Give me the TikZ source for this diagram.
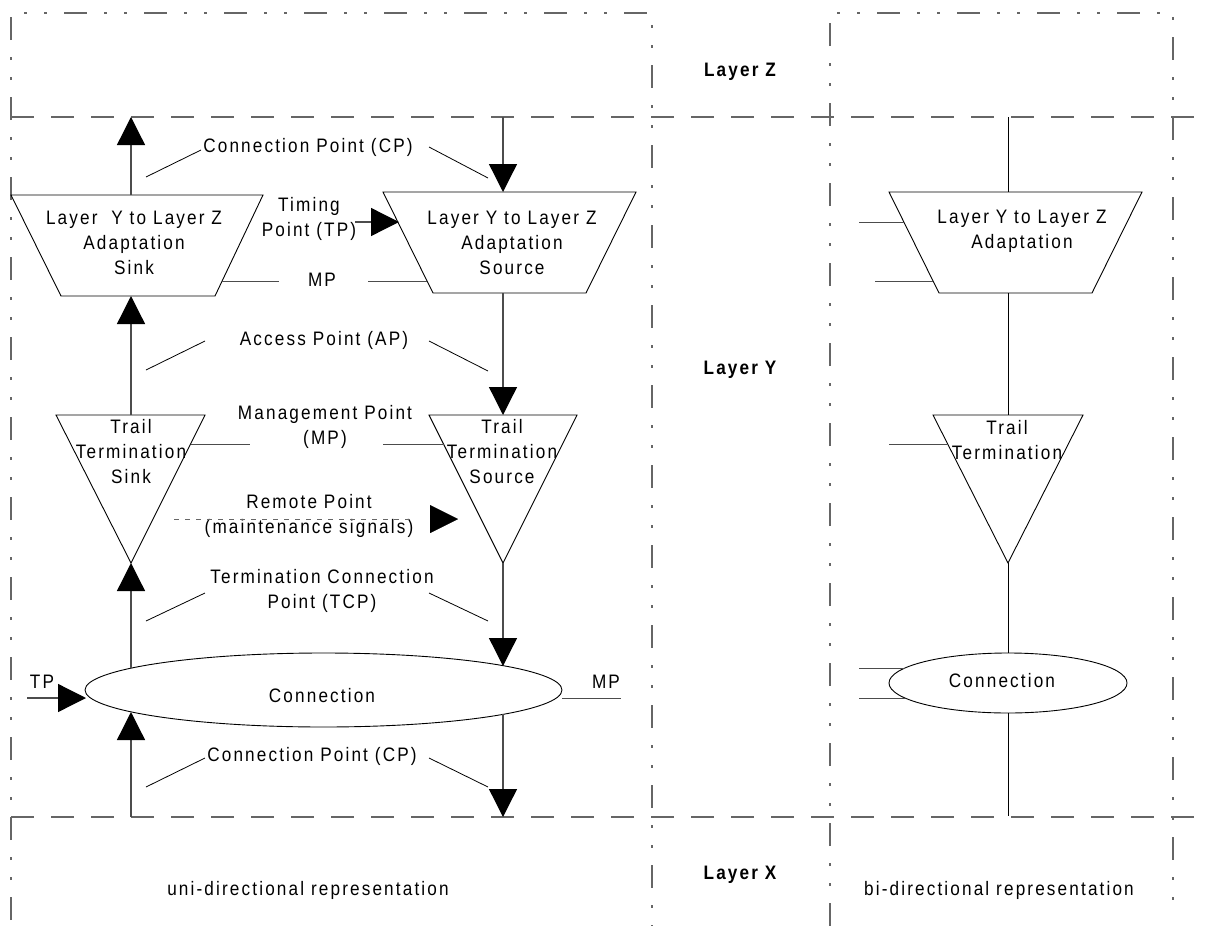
\documentclass[tikz,border=0pt]{standalone}
\usepackage{fontspec}
\setmainfont{Liberation Sans}[FakeStretch=0.88,LetterSpace=11]
\usetikzlibrary{arrows.meta,shapes.geometric}
\begin{document}
\begin{tikzpicture}[x=1pt,y=-1pt,
  every node/.style={font=\fontsize{19.5}{25}\selectfont, inner sep=0pt, align=center},
  layerlbl/.style={font=\fontsize{19.5}{25}\selectfont\bfseries},
  dashdot/.style={draw=black!60, line width=1.5pt, dash pattern=on 23pt off 17pt on 3pt off 17pt on 3pt off 17pt},
  layerline/.style={draw=black!60, line width=1.5pt, dash pattern=on 23pt off 17pt},
  conn/.style={draw=black!70, line width=1.3pt},
  thin/.style={draw=black, line width=0.9pt},
  leader/.style={draw=black, line width=0.8pt},
  shp/.style={draw=black, line width=0.9pt},
  arr/.style={conn, -{Triangle[length=28pt,width=28pt,color=black]}},
  ell/.style={ellipse, draw=black, line width=0.9pt}
]
\useasboundingbox (0,0) rectangle (1208,926);

% ---- frames ----
\draw[dashdot] (11,920) -- (11,13) -- (652,13) -- (652,926);
\draw[dashdot] (830,926) -- (830,13) -- (1173,13) -- (1173,910);
\draw[layerline] (11,117) -- (1198,117);
\draw[layerline] (11,817) -- (1198,817);

% ---- layer labels ----
\node[layerlbl] (lz) at (740,72) {Layer Z};
\node[layerlbl] (ly) at (740,370) {Layer Y};
\node[layerlbl] (lx) at (740,875) {Layer X};
\node (uni) at (308,890) {uni-directional representation};
\node (bi) at (999,890) {bi-directional representation};

% ---- named coordinates: left column ----
\coordinate (topL) at (131,117);
\coordinate (topR) at (503,117);
\coordinate (botL) at (131,817);
\coordinate (botR) at (503,817);
% adaptation sink
\coordinate (as1) at (11,195); \coordinate (as2) at (263,195);
\coordinate (as3) at (215,296); \coordinate (as4) at (61,296);
\coordinate (asT) at (131,195); \coordinate (asB) at (131,296);
% adaptation source
\coordinate (ao1) at (383,192); \coordinate (ao2) at (636,192);
\coordinate (ao3) at (586,293); \coordinate (ao4) at (433,293);
\coordinate (aoT) at (503,192); \coordinate (aoB) at (503,293);
% trail termination sink / source
\coordinate (ts1) at (56,415); \coordinate (ts2) at (205,415); \coordinate (tsA) at (131,563);
\coordinate (tsT) at (131,415);
\coordinate (to1) at (429,415); \coordinate (to2) at (577,415); \coordinate (toA) at (503,563);
\coordinate (toT) at (503,415);

\filldraw[shp, fill=white] (as1) -- (as2) -- (as3) -- (as4) -- cycle;
\filldraw[shp, fill=white] (ao1) -- (ao2) -- (ao3) -- (ao4) -- cycle;
\draw[shp] (ts1) -- (ts2) -- (tsA) -- cycle;
\draw[shp] (to1) -- (to2) -- (toA) -- cycle;
\node[ell, minimum width=477pt, minimum height=74pt] (con) at (323.5,690) {};
\node (contxt) at (322,696) {Connection};

\coordinate (ceTL) at (131,668); \coordinate (ceBL) at (131,712);
\coordinate (ceTR) at (503,666); \coordinate (ceBR) at (503,714);

% shape texts
\node (astxt) at (134,243) {Layer\ \ Y to Layer Z\\Adaptation\\Sink};
\node (aotxt) at (512,243) {Layer Y to Layer Z\\Adaptation\\Source};
\node (tstxt) at (131,452) {Trail\\Termination\\Sink};
\node (totxt) at (502,452) {Trail\\Termination\\Source};

% vertical signal flow
\draw[arr] (asT) -- (topL);
\draw[arr] (topR) -- (aoT);
\draw[arr] (tsT) -- (asB);
\draw[arr] (aoB) -- (toT);
\draw[arr] (ceTL) -- (tsA);
\draw[arr] (toA) -- (ceTR);
\draw[arr] (botL) -- (ceBL);
\draw[arr] (ceBR) -- (botR);

% point labels
\node (cp1) at (308,147) {Connection Point (CP)};
\node (tp1) at (309,219) {Timing\\Point (TP)};
\node (mp1) at (322,280) {MP};
\node (ap) at (324,340) {Access Point (AP)};
\node (mg) at (325,427) {Management Point\\(MP)};
\node (rp) at (309,516) {Remote Point\\(maintenance signals)};
\node (tcp) at (322,591) {Termination Connection\\Point (TCP)};
\node (cp2) at (312,756) {Connection Point (CP)};
\node (tp2) at (42,682) {TP};
\node (mp2) at (606,682) {MP};

% leaders
\coordinate (l1a) at (146,177); \coordinate (l1b) at (201,150);
\coordinate (l1c) at (429,147); \coordinate (l1d) at (488,178);
\coordinate (l2a) at (146,370); \coordinate (l2b) at (205,341);
\coordinate (l2c) at (429,341); \coordinate (l2d) at (488,371);
\coordinate (l3a) at (146,621); \coordinate (l3b) at (205,593);
\coordinate (l3c) at (429,593); \coordinate (l3d) at (488,621);
\coordinate (l4a) at (146,787); \coordinate (l4b) at (205,758);
\coordinate (l4c) at (429,758); \coordinate (l4d) at (488,787);
\draw[leader] (l1a) -- (l1b); \draw[leader] (l1c) -- (l1d);
\draw[leader] (l2a) -- (l2b); \draw[leader] (l2c) -- (l2d);
\draw[leader] (l3a) -- (l3b); \draw[leader] (l3c) -- (l3d);
\draw[leader] (l4a) -- (l4b); \draw[leader] (l4c) -- (l4d);

% MP lines
\coordinate (m1a) at (221,281); \coordinate (m1b) at (279,281);
\coordinate (m1c) at (368,281); \coordinate (m1d) at (427,281);
\draw[conn, line width=1pt] (m1a) -- (m1b); \draw[conn, line width=1pt] (m1c) -- (m1d);
\coordinate (m2a) at (191,444); \coordinate (m2b) at (250,444);
\coordinate (m2c) at (383,444); \coordinate (m2d) at (444,444);
\draw[conn, line width=1pt] (m2a) -- (m2b); \draw[conn, line width=1pt] (m2c) -- (m2d);
\coordinate (m3a) at (562,698); \coordinate (m3b) at (621,698);
\draw[conn, line width=1pt] (m3a) -- (m3b);

% TP arrows
\coordinate (tpa) at (355,222); \coordinate (tpb) at (399,222);
\draw[arr] (tpa) -- (tpb);
\coordinate (tpc) at (27,698); \coordinate (tpd) at (86,698);
\draw[arr] (tpc) -- (tpd);

% remote point
\coordinate (rpa) at (174,519); \coordinate (rpb) at (415,519);
\coordinate (rpc) at (430,519); \coordinate (rpd) at (458,519);
\draw[draw=black!60, line width=0.8pt, dash pattern=on 5pt off 6pt] (rpa) -- (rpb);
\draw[line width=0.01pt, -{Triangle[length=28pt,width=28pt,color=black]}] (rpc) -- (rpd);

% ---- right column ----
\coordinate (rtop) at (1008,117);
\coordinate (rbot) at (1008,816);
\coordinate (ra1) at (889,192); \coordinate (ra2) at (1142,192);
\coordinate (ra3) at (1092,293); \coordinate (ra4) at (939,293);
\coordinate (raT) at (1008,192); \coordinate (raB) at (1008,293);
\coordinate (rt1) at (933,415); \coordinate (rt2) at (1083,415); \coordinate (rtA) at (1008,563);
\coordinate (rtT) at (1008,415);
\draw[shp] (ra1) -- (ra2) -- (ra3) -- (ra4) -- cycle;
\draw[shp] (rt1) -- (rt2) -- (rtA) -- cycle;
\node[ell, minimum width=238pt, minimum height=60pt] (rcon) at (1008,683) {};
\node (rcontxt) at (1002,681) {Connection};
\node (ratxt) at (1022,231) {Layer Y to Layer Z\\Adaptation};
\node (rttxt) at (1007,440) {Trail\\Termination};

\draw[thin] (rtop) -- (raT);
\draw[thin] (raB) -- (rtT);
\draw[thin] (rtA) -- (rcon.north);
\draw[thin] (rcon.south) -- (rbot);

\coordinate (r1a) at (859,222); \coordinate (r1b) at (904,222);
\coordinate (r2a) at (875,281); \coordinate (r2b) at (933,281);
\coordinate (r3a) at (889,444); \coordinate (r3b) at (948,444);
\coordinate (r4a) at (859,668); \coordinate (r4b) at (905,668);
\coordinate (r5a) at (859,698); \coordinate (r5b) at (905,698);
\draw[conn, line width=1pt] (r1a) -- (r1b);
\draw[conn, line width=1pt] (r2a) -- (r2b);
\draw[conn, line width=1pt] (r3a) -- (r3b);
\draw[conn, line width=1pt] (r4a) -- (r4b);
\draw[conn, line width=1pt] (r5a) -- (r5b);
\end{tikzpicture}
\end{document}
